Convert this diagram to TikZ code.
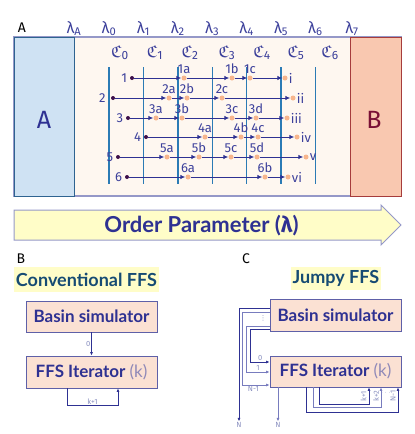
\documentclass[tikz,border=0pt]{standalone}
\usepackage{fontspec}
\usepackage{amsmath,amssymb}
\setmainfont{Fira Sans}
\newfontfamily\latofont{Lato}
\newfontfamily\symfont{DejaVu Sans}
\usetikzlibrary{positioning, arrows.meta}
\definecolor{navy}{RGB}{46,49,146}
\definecolor{titleblue}{RGB}{22,75,115}
\definecolor{paleyellow}{RGB}{255,253,200}
\definecolor{peach}{RGB}{251,225,211}
\definecolor{boxline}{RGB}{94,96,168}
\definecolor{kgrey}{RGB}{143,137,184}
\definecolor{cream}{RGB}{254,247,240}
\definecolor{framec}{RGB}{149,152,200}
\definecolor{afill}{RGB}{207,226,243}
\definecolor{aline}{RGB}{46,99,144}
\definecolor{bfill}{RGB}{249,200,176}
\definecolor{bline}{RGB}{166,60,60}
\definecolor{btext}{RGB}{122,16,53}
\definecolor{ifaceblue}{RGB}{43,123,181}
\definecolor{startdot}{RGB}{61,15,74}
\definecolor{orangedot}{RGB}{247,181,140}
\definecolor{wireblue}{RGB}{120,124,190}
\definecolor{wiretext}{RGB}{138,144,192}
\definecolor{lblblue}{RGB}{60,64,155}
\tikzset{
  iface/.style={draw=ifaceblue, line width=1.4pt},
  sdot/.style={circle, fill=startdot, inner sep=0pt, minimum size=4pt},
  odot/.style={circle, fill=orangedot, inner sep=0pt, minimum size=5pt},
  lbl/.style={ % labels of the trajectory points
    text=lblblue, inner sep=1pt, label distance=0pt,
    font=\fontsize{13}{13}\selectfont,
  },
  lam/.style={text=lblblue, anchor=base, font=\fontsize{16}{16}\selectfont},
  cset/.style={lam, font=\fontsize{17}{17}\selectfont},
  conn/.style={ % one step of a trajectory
    -{Latex[length=5pt,width=4.5pt]},
    draw=navy, line width=0.9pt,
  },
  simbox/.style={
    rectangle, draw=boxline, fill=peach, line width=0.8pt,
    minimum width=131pt, minimum height=31pt, inner sep=0pt,
    text=navy, font=\latofont\bfseries\fontsize{17}{17}\selectfont,
  },
  paneltitle/.style={
    fill=paleyellow, inner sep=0pt, text=titleblue,
    font=\latofont\bfseries\fontsize{18}{18}\selectfont,
  },
  wire/.style={-{Latex[length=3.5pt,width=3pt]}, draw=navy, line width=0.7pt},
  wirelt/.style={wire, draw=wireblue},
  wirelbl/.style={text=wiretext, inner sep=0.8pt, font=\fontsize{7.5}{7.5}\selectfont},
}
\begin{document}
\begin{tikzpicture}[x=1pt,y=-1pt]
		\useasboundingbox (0,0) rectangle (415,434);
		% panel A: basins and interfaces
		\draw[draw=framec, fill=cream, line width=1.3pt] (14,37) rectangle (401,196);
		\draw[draw=aline, fill=afill, line width=1pt] (14,37) rectangle (74,196);
		\draw[draw=bline, fill=bfill, line width=1pt] (350,37) rectangle (401,196);
		\node[text=navy, font=\fontsize{25}{25}\selectfont] (basA) at (44,120) {A};
		\node[text=btext, font=\fontsize{25}{25}\selectfont] (basB) at (374,120) {B};
		\node[anchor=base, font=\fontsize{14}{14}\selectfont] (panA) at (22,32) {A};
		\node[lam] (lamA) at (74,33) {λ\textsubscript{A}};
		\node[lam] (lam0) at (109,33) {λ\textsubscript{0}};
		\node[lam] (lam1) at (143.4,33) {λ\textsubscript{1}};
		\node[lam] (lam2) at (177.8,33) {λ\textsubscript{2}};
		\node[lam] (lam3) at (212.2,33) {λ\textsubscript{3}};
		\node[lam] (lam4) at (246.6,33) {λ\textsubscript{4}};
		\node[lam] (lam5) at (281,33) {λ\textsubscript{5}};
		\node[lam] (lam6) at (315.4,33) {λ\textsubscript{6}};
		\node[lam] (lam7) at (352,33) {λ\textsubscript{7}};
		\node[cset] (c0) at (120,57) {$\mathfrak{C}_{\text{0}}$};
		\node[cset] (c1) at (155,57) {$\mathfrak{C}_{\text{1}}$};
		\node[cset] (c2) at (190,57) {$\mathfrak{C}_{\text{2}}$};
		\node[cset] (c3) at (227,57) {$\mathfrak{C}_{\text{3}}$};
		\node[cset] (c4) at (262,57) {$\mathfrak{C}_{\text{4}}$};
		\node[cset] (c5) at (296,57) {$\mathfrak{C}_{\text{5}}$};
		\node[cset] (c6) at (330,57) {$\mathfrak{C}_{\text{6}}$};
		% interfaces
		\draw[iface] (109,67) -- (109,184);
		\draw[iface] (143.4,67) -- (143.4,184);
		\draw[iface] (177.8,67) -- (177.8,184);
		\draw[iface] (212.2,67) -- (212.2,184);
		\draw[iface] (246.6,67) -- (246.6,184);
		\draw[iface] (281,67) -- (281,184);
		\draw[iface] (315.4,67) -- (315.4,184);
		% trajectory 1
		\node[sdot, label={[lbl, label distance=1.5pt]left:1}] (s1) at (132,78) {};
		\node[odot, label={[lbl]above:1a}] (p1a) at (184,78) {};
		\node[odot, label={[lbl]above:1b}] (p1b) at (232,78) {};
		\node[odot, label={[lbl]above:1c}] (p1c) at (250,78) {};
		\node[odot, label={[lbl]right:i}] (e1) at (285,78) {};
		\draw[conn] (s1) -- (p1a);
		\draw[conn] (p1a) -- (p1b);
		\draw[conn] (p1b) -- (p1c);
		\draw[conn] (p1c) -- (e1);
		% trajectory 2
		\node[sdot, label={[lbl, label distance=4pt]left:2}] (s2) at (113,98) {};
		\node[odot, label={[lbl]above:2a}] (p2a) at (169,98) {};
		\node[odot, label={[lbl]above:2b}] (p2b) at (187,98) {};
		\node[odot, label={[lbl]above:2c}] (p2c) at (222,98) {};
		\node[odot, label={[lbl]right:ii}] (e2) at (293,98) {};
		\draw[conn] (s2) -- (p2a);
		\draw[conn] (p2a) -- (p2b);
		\draw[conn] (p2b) -- (p2c);
		\draw[conn] (p2c) -- (e2);
		% trajectory 3
		\node[sdot, label={[lbl, label distance=1.5pt]left:3}] (s3) at (128,118) {};
		\node[odot, label={[lbl]above:3a}] (p3a) at (156,118) {};
		\node[odot, label={[lbl]above:3b}] (p3b) at (182,118) {};
		\node[odot, label={[lbl]above:3c}] (p3c) at (232,118) {};
		\node[odot, label={[lbl]above:3d}] (p3d) at (256,118) {};
		\node[odot, label={[lbl]right:iii}] (e3) at (287,118) {};
		\draw[conn] (s3) -- (p3a);
		\draw[conn] (p3a) -- (p3b);
		\draw[conn] (p3b) -- (p3c);
		\draw[conn] (p3c) -- (p3d);
		\draw[conn] (p3d) -- (e3);
		% trajectory 4
		\node[sdot, label={[lbl, label distance=1.5pt]left:4}] (s4) at (146,137) {};
		\node[odot, label={[lbl]above:4a}] (p4a) at (205,137) {};
		\node[odot, label={[lbl]above:4b}] (p4b) at (241,137) {};
		\node[odot, label={[lbl]above:4c}] (p4c) at (258,137) {};
		\node[odot, label={[lbl]right:iv}] (e4) at (297,137) {};
		\draw[conn] (s4) -- (p4a);
		\draw[conn] (p4a) -- (p4b);
		\draw[conn] (p4b) -- (p4c);
		\draw[conn] (p4c) -- (e4);
		% trajectory 5
		\node[sdot, label={[lbl, label distance=1.5pt]left:5}] (s5) at (118,157) {};
		\node[odot, label={[lbl]above:5a}] (p5a) at (167,157) {};
		\node[odot, label={[lbl]above:5b}] (p5b) at (199,157) {};
		\node[odot, label={[lbl]above:5c}] (p5c) at (231,157) {};
		\node[odot, label={[lbl]above:5d}] (p5d) at (257,157) {};
		\node[odot, label={[lbl]right:v}] (e5) at (306,157) {};
		\draw[conn] (s5) -- (p5a);
		\draw[conn] (p5a) -- (p5b);
		\draw[conn] (p5b) -- (p5c);
		\draw[conn] (p5c) -- (p5d);
		\draw[conn] (p5d) -- (e5);
		% trajectory 6
		\node[sdot, label={[lbl, label distance=1.5pt]left:6}] (s6) at (127,177) {};
		\node[odot, label={[lbl]above:6a}] (p6a) at (188,177) {};
		\node[odot, label={[lbl]above:6b}] (p6b) at (265,177) {};
		\node[odot, label={[lbl]right:vi}] (e6) at (288,177) {};
		\draw[conn] (s6) -- (p6a);
		\draw[conn] (p6a) -- (p6b);
		\draw[conn] (p6b) -- (e6);
		% order parameter arrow
		\draw[draw=framec, fill=paleyellow, line width=1pt] (14,210) -- (381,210) -- (381,205)
			-- (401,225) -- (381,245) -- (381,240) -- (14,240) -- cycle;
		\node[text=navy, font=\latofont\bfseries\fontsize{22}{22}\selectfont] (order) at (201.5,226)
			{Order Parameter ({\fontspec{Fira Sans}\bfseries λ})};
		% panel B: conventional FFS
		\node[anchor=base, font=\fontsize{14}{14}\selectfont] (panB) at (21,263) {B};
		\node[paneltitle, minimum width=145pt, minimum height=25pt] (titB) at (86.5,279.5) {Conventional FFS};
		\node[simbox] (basinB) at (91.5,316.5) {Basin simulator};
		\node[simbox, minimum height=32pt] (iterB) at (91.5,372) {FFS Iterator {\mdseries\color{kgrey}(k)}};
		\draw[wire] (basinB) -- node[wirelbl, left] {0} (iterB);
		\draw[wire] ([xshift=-24.5pt]iterB.south) -- ++(0,17)
			-| node[wirelbl, pos=0.25, above] {k+1} ([xshift=26.5pt]iterB.south);
		% panel C: jumpy FFS
		\node[anchor=base, font=\fontsize{14}{14}\selectfont] (panC) at (246,263) {C};
		\node[paneltitle, minimum width=90pt, minimum height=23pt] (titC) at (336,278.5) {Jumpy FFS};
		\node[simbox, minimum height=32pt] (basinC) at (335.5,315) {Basin simulator};
		\node[simbox] (iterC) at (335.5,371.5) {FFS Iterator {\mdseries\color{kgrey}(k)}};
		\node[wirelbl] (outA) at (239,425) {N};
		\node[wirelbl] (outB) at (278,425) {N};
		\node[wirelbl, font=\symfont\fontsize{7}{7}\selectfont] (vdot) at (263,318) {⋮};
		\draw[wire] ([yshift=7pt]basinC.west) -| (outA);
		\draw[wirelt] ([yshift=3pt]basinC.west) -- ++(-27,0)
			|- node[wirelbl, pos=0.7, below] {N-1} ([yshift=-13.5pt]iterC.west);
		\draw[wirelt] ([yshift=-11pt]basinC.west) -- ++(-23,0)
			|- node[wirelbl, pos=0.75, above] {1} ([yshift=-0.5pt]iterC.west);
		\draw[wire] ([yshift=-14pt]basinC.west) -- ++(-19,0)
			|- node[wirelbl, pos=0.75, above] {0} ([yshift=9.5pt]iterC.west);
		\draw[wirelt] ([xshift=-57.5pt]iterC.south) -- (outB);
		% loops back into the iterator
		\draw[wire] ([xshift=-16.5pt]iterC.south) -- ++(0,17) -| ([xshift=33.5pt]iterC.south);
		\draw[wirelt] ([xshift=-22.5pt]iterC.south) -- ++(0,20) -| ([xshift=45.5pt]iterC.south);
		\draw[wire] ([xshift=-29.5pt]iterC.south) -- ++(0,25) -| ([xshift=62.5pt]iterC.south);
		\node[wirelbl, rotate=90] (k1) at (363.5,396) {k+1};
		\node[wirelbl, rotate=90] (k2) at (376,396) {k+2};
		\node[wirelbl] (cdot) at (386.5,393) {$\cdots$};
		\node[wirelbl, rotate=90] (kn) at (393,396) {N-1};
	\end{tikzpicture}
\end{document}
